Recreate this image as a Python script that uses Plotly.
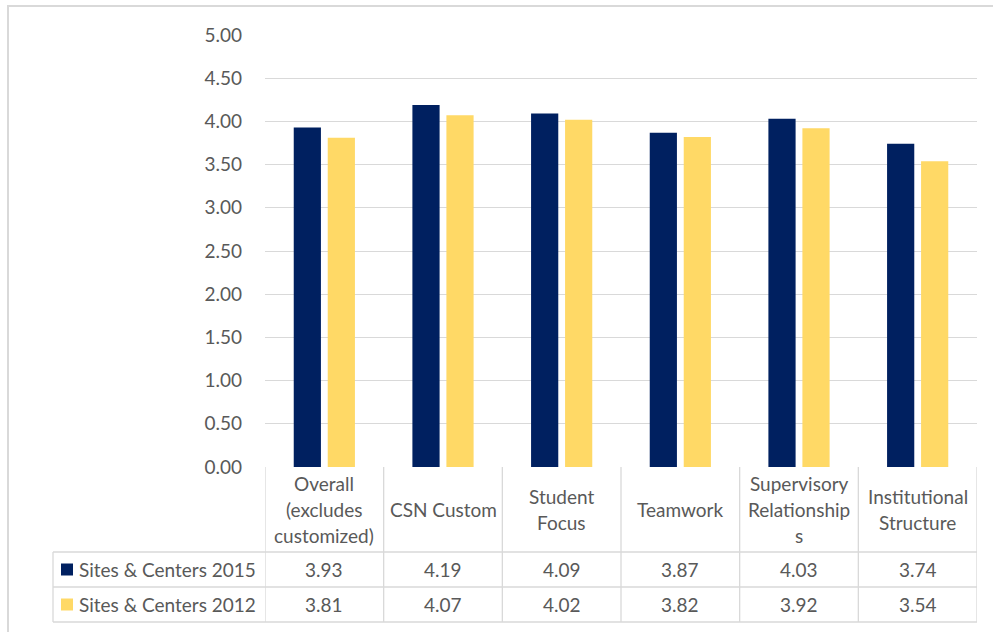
import plotly.graph_objects as go

# Survey dimension scores by year
categories = [
    "Overall<br>(excludes<br>customized)",
    "CSN Custom",
    "Student<br>Focus",
    "Teamwork",
    "Supervisory<br>Relationship<br>s",
    "Institutional<br>Structure",
]
series_names = ["Sites & Centers 2015", "Sites & Centers 2012"]
scores_2015 = [3.93, 4.19, 4.09, 3.87, 4.03, 3.74]
scores_2012 = [3.81, 4.07, 4.02, 3.82, 3.92, 3.54]
y_ticks = [0, 0.5, 1, 1.5, 2, 2.5, 3, 3.5, 4, 4.5, 5]

colors = ["#002060", "#FFD966"]
text_color = "#595959"
line_color = "#D9D9D9"
font_family = "Lato"
font_size = 19

# Canvas geometry (pixels)
W, H = 994, 632
L, R, T, B = 265, 977, 35, 467


def px(x):
    return (x - L) / (R - L)


def py(y):
    return (B - y) / (B - T)


idx = list(range(len(categories)))

fig = go.Figure()
for name, vals, col in zip(series_names, [scores_2015, scores_2012], colors):
    fig.add_trace(go.Bar(x=idx, y=vals, name=name, marker=dict(color=col, line=dict(width=0)),
                         showlegend=False, hoverinfo="x+y"))

shapes = []
annotations = []

# Outer chart border (top and left edges)
shapes.append(dict(type="line", xref="paper", yref="paper", x0=px(7), x1=px(993), y0=py(6), y1=py(6),
                   line=dict(color=line_color, width=2)))
shapes.append(dict(type="line", xref="paper", yref="paper", x0=px(8), x1=px(8), y0=py(6), y1=py(632),
                   line=dict(color=line_color, width=2)))

# Data table grid
header_top, row1_top, row2_top, table_bottom = 467, 552, 587, 622
legend_left = 53
for i in range(len(categories) + 1):
    shapes.append(dict(type="line", xref="x", yref="paper", x0=i - 0.5, x1=i - 0.5,
                       y0=py(header_top), y1=py(table_bottom), line=dict(color=line_color, width=1.3)))
shapes.append(dict(type="line", xref="paper", yref="paper", x0=px(legend_left), x1=px(legend_left),
                   y0=py(row1_top), y1=py(table_bottom), line=dict(color=line_color, width=1.3)))
for yy in [row1_top, row2_top, table_bottom]:
    shapes.append(dict(type="line", xref="paper", yref="paper", x0=px(legend_left), x1=1,
                       y0=py(yy), y1=py(yy), line=dict(color=line_color, width=1.3)))

# Category headers, one annotation per text line
header_mid = (header_top + row1_top) / 2
line_step = 26
for i, label in enumerate(categories):
    lines = label.split("<br>")
    n = len(lines)
    for j, ln in enumerate(lines):
        yy = header_mid + (j - (n - 1) / 2) * line_step
        annotations.append(dict(x=i, xref="x", y=py(yy), yref="paper", text=ln, showarrow=False,
                                xanchor="center", yanchor="middle",
                                font=dict(family=font_family, size=font_size, color=text_color)))

# Series rows: legend key, name and values
row_mids = [(row1_top + row2_top) / 2, (row2_top + table_bottom) / 2]
for name, vals, col, ym in zip(series_names, [scores_2015, scores_2012], colors, row_mids):
    shapes.append(dict(type="rect", xref="paper", yref="paper", x0=px(61), x1=px(73),
                       y0=py(ym - 6), y1=py(ym + 6), fillcolor=col, line=dict(width=0)))
    annotations.append(dict(x=px(77), xref="paper", y=py(ym), yref="paper", text=name, showarrow=False,
                            xanchor="left", yanchor="middle",
                            font=dict(family=font_family, size=font_size, color=text_color)))
    for i, v in enumerate(vals):
        annotations.append(dict(x=i, xref="x", y=py(ym), yref="paper", text=f"{v:.2f}", showarrow=False,
                                xanchor="center", yanchor="middle",
                                font=dict(family=font_family, size=font_size, color=text_color)))

fig.update_layout(
    width=W, height=H,
    margin=dict(l=L, r=W - R, t=T, b=H - B, pad=0),
    paper_bgcolor="white", plot_bgcolor="white",
    barmode="group", bargap=0.427, bargroupgap=0.2,
    font=dict(family=font_family, size=font_size, color=text_color),
    shapes=shapes, annotations=annotations,
    showlegend=False,
)
fig.update_xaxes(range=[-0.5, len(categories) - 0.5], showticklabels=False, showgrid=False,
                 zeroline=False, showline=False, ticks="")
fig.update_yaxes(range=[0, 5], tickvals=y_ticks, ticktext=[f"{t:.2f}" for t in y_ticks],
                 showgrid=True, gridcolor=line_color, gridwidth=1.3, zeroline=False, showline=False,
                 ticks="", ticklabelstandoff=22,
                 tickfont=dict(family=font_family, size=font_size, color=text_color))

fig.write_html("out.html")
